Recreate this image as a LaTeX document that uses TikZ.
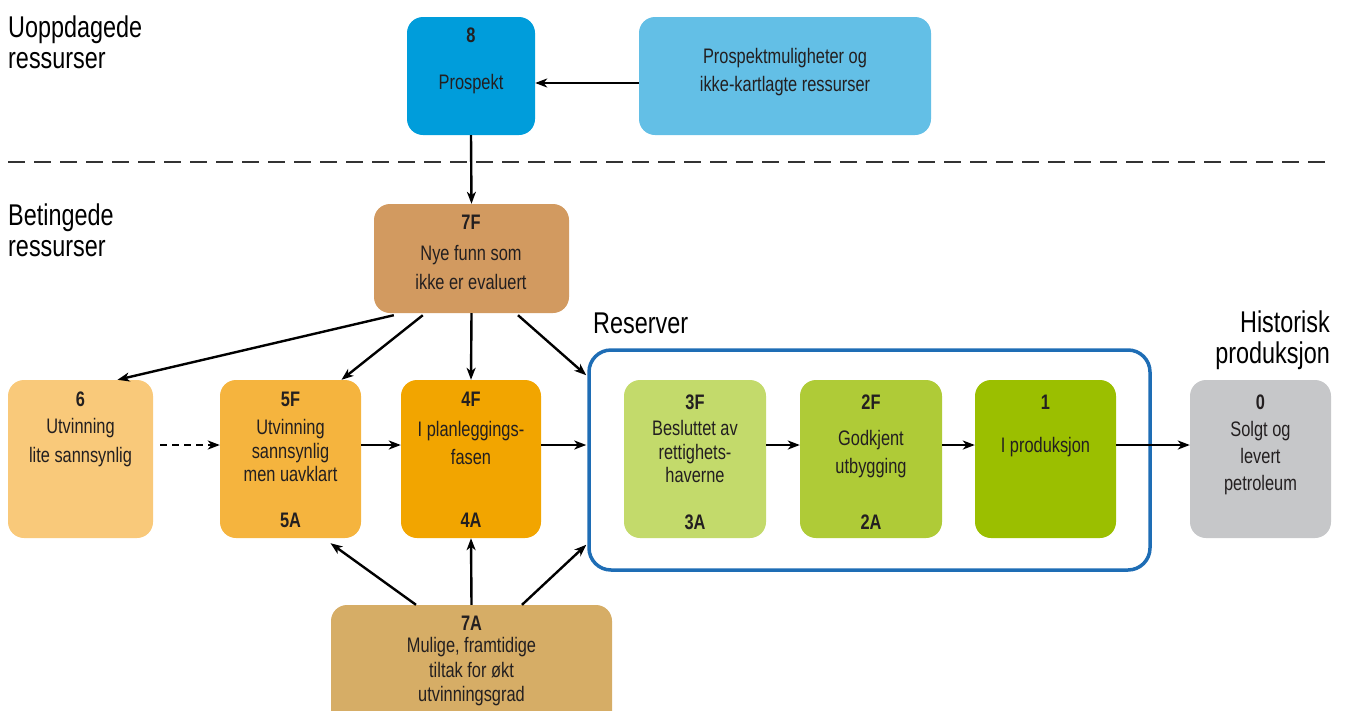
\documentclass[tikz,border=0pt]{standalone}
\usepackage{fontspec}
\setmainfont{Liberation Sans}[FakeStretch=0.78]
\usetikzlibrary{arrows.meta,calc}
\definecolor{txtc}{HTML}{231F20}
\definecolor{c8}{HTML}{009DDB}
\definecolor{cpm}{HTML}{63BFE6}
\definecolor{c7F}{HTML}{D29A60}
\definecolor{c6}{HTML}{F9C97A}
\definecolor{c5}{HTML}{F5B43E}
\definecolor{c4}{HTML}{F2A500}
\definecolor{c3}{HTML}{C3DA6B}
\definecolor{c2}{HTML}{AFCB37}
\definecolor{c1}{HTML}{9BBF00}
\definecolor{c0}{HTML}{C6C7C9}
\definecolor{c7A}{HTML}{D6AD66}
\definecolor{cframe}{HTML}{1E6DB5}
\tikzset{
  box/.style={draw=none, rounded corners=16pt, inner sep=0pt},
  txt/.style={font=\fontsize{21}{28}\selectfont, text=txtc, inner sep=0pt, align=center},
  num/.style={font=\fontsize{21}{28}\selectfont\bfseries, text=txtc, inner sep=0pt},
  head/.style={font=\fontsize{30}{31}\selectfont, text=black, inner sep=0pt},
  arr/.style={line width=2.4pt, -{Stealth[length=12pt,width=9pt,inset=3.5pt]}},
}
\begin{document}
\begin{tikzpicture}[x=1pt,y=-1pt]
\useasboundingbox (0,0) rectangle (1347,710);
\clip (0,0) rectangle (1347,710);

% headings
\node[head, anchor=base west, align=left] (h1) at (8,68) {Uoppdagede\\ressurser};
\node[head, anchor=base west, align=left] (h2) at (8,256) {Betingede\\ressurser};
\node[head, anchor=base west] (h3) at (593,333) {Reserver};
\node[head, anchor=base east, align=right] (h4) at (1330,363) {Historisk\\produksjon};

% separator
\coordinate (sepL) at (8,162);
\coordinate (sepR) at (1332,162);
\draw[line width=1.3pt, black!80, dash pattern=on 17pt off 9pt] (sepL) -- (sepR);

% reserves frame
\node[draw=cframe, line width=3.5pt, rounded corners=22pt, minimum width=561pt, minimum height=220pt, inner sep=0pt] (res) at (869.5,460) {};

% boxes
\node[box, fill=c8, minimum width=128pt, minimum height=118pt] (p8) at (471,76) {};
\node[box, fill=cpm, minimum width=292pt, minimum height=118pt] (pm) at (785,76) {};
\node[box, fill=c7F, minimum width=195pt, minimum height=109pt] (f7) at (471.5,258.5) {};
\node[box, fill=c6, minimum width=145pt, minimum height=158pt] (b6) at (80.5,459) {};
\node[box, fill=c5, minimum width=141pt, minimum height=158pt] (b5) at (290.5,459) {};
\node[box, fill=c4, minimum width=140pt, minimum height=158pt] (b4) at (471,459) {};
\node[box, fill=c3, minimum width=142pt, minimum height=158pt] (b3) at (695,459) {};
\node[box, fill=c2, minimum width=142pt, minimum height=158pt] (b2) at (871,459) {};
\node[box, fill=c1, minimum width=141pt, minimum height=158pt] (b1) at (1045.5,459) {};
\node[box, fill=c0, minimum width=141pt, minimum height=158pt] (b0) at (1260.5,459) {};
\node[box, fill=c7A, minimum width=281pt, minimum height=130pt] (a7) at (471.5,670) {};

% texts
\node[num] (t8n) at (471,35) {8};
\node[txt] (t8) at (471,84) {Prospekt};
\node[txt] (tpm) at (785,72) {Prospektmuligheter og\\ikke-kartlagte ressurser};
\node[num] (t7fn) at (471,222) {7F};
\node[txt, font=\fontsize{21}{29}\selectfont] (t7f) at (471,267.5) {Nye funn som\\ikke er evaluert};
\node[num] (t6n) at (80.5,399) {6};
\node[txt, font=\fontsize{21}{29}\selectfont] (t6) at (80.5,442.5) {Utvinning\\lite sannsynlig};
\node[num] (t5n) at (290.5,399) {5F};
\node[txt, font=\fontsize{21}{23.5}\selectfont] (t5) at (290.5,450.5) {Utvinning\\sannsynlig\\men uavklart};
\node[num] (t5a) at (290.5,520) {5A};
\node[num] (t4n) at (471,399) {4F};
\node[txt] (t4) at (471,443) {I planleggings-\\fasen};
\node[num] (t4a) at (471,520) {4A};
\node[num] (t3n) at (695,402) {3F};
\node[txt, font=\fontsize{21}{23.5}\selectfont] (t3) at (695,451.5) {Besluttet av\\rettighets-\\haverne};
\node[num] (t3a) at (695,522) {3A};
\node[num] (t2n) at (871,402) {2F};
\node[txt] (t2) at (871,454) {Godkjent\\utbygging};
\node[num] (t2a) at (871,522) {2A};
\node[num] (t1n) at (1045.5,402) {1};
\node[txt] (t1) at (1045.5,447) {I produksjon};
\node[num] (t0n) at (1260.5,402) {0};
\node[txt, font=\fontsize{21}{27}\selectfont] (t0) at (1260.5,458) {Solgt og\\levert\\petroleum};
\node[num] (t7an) at (471.5,623) {7A};
\node[txt, font=\fontsize{21}{24.5}\selectfont] (t7a) at (471.5,672) {Mulige, framtidige\\tiltak for økt\\utvinningsgrad};

% connectors
\draw[arr] ($(pm.west)+(0,7)$) -- ($(p8.east)+(0,7)$);
\draw[arr] (p8.south) -- (f7.north);
\draw[arr] ($(f7.south west)+(20,2)$) -- ($(b6.north)+(37,0)$);
\draw[arr] ($(f7.south west)+(49,2)$) -- ($(b5.north)+(51,0)$);
\draw[arr] (f7.south) -- (b4.north);
\draw[arr] ($(f7.south)+(46.5,2)$) -- ($(res.north west)+(-1,27)$);
\draw[arr, line width=2.6pt, dash pattern=on 7pt off 5pt] ($(b6.east)+(7,-14)$) -- ($(b5.west)+(0,-14)$);
\draw[arr] ($(b5.east)+(0,-14)$) -- ($(b4.west)+(0,-14)$);
\draw[arr] ($(b4.east)+(0,-14)$) -- ($(res.west)+(-1,-15)$);
\draw[arr] ($(b3.east)+(0,-14)$) -- ($(b2.west)+(0,-14)$);
\draw[arr] ($(b2.east)+(0,-14)$) -- ($(b1.west)+(0,-14)$);
\draw[arr] ($(b1.east)+(0,-14)$) -- ($(b0.west)+(0,-14)$);
\draw[arr] ($(a7.north)+(-55.5,0)$) -- ($(b5.south)+(40,5)$);
\draw[arr] (a7.north) -- (b4.south);
\draw[arr] ($(a7.north)+(50.5,0)$) -- ($(res.south west)+(-1,-27)$);
\end{tikzpicture}
\end{document}
